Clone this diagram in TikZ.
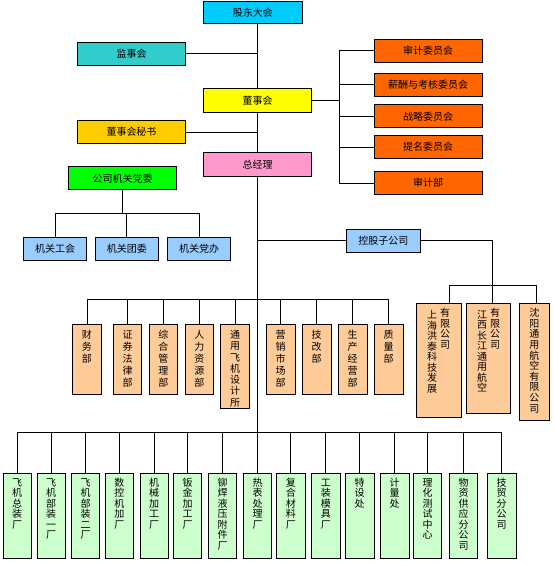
\documentclass[tikz,border=0pt]{standalone}
\usepackage{fontspec}
\newfontfamily\zhfont{Noto Sans CJK SC}
\definecolor{gdblue}{RGB}{0,204,255}
\definecolor{jsteal}{RGB}{51,204,204}
\definecolor{dsyellow}{RGB}{255,255,0}
\definecolor{msgold}{RGB}{255,204,0}
\definecolor{zjpink}{RGB}{255,153,204}
\definecolor{dwgreen}{RGB}{0,255,0}
\definecolor{wyorange}{RGB}{255,102,0}
\definecolor{lblue}{RGB}{153,204,255}
\definecolor{tan}{RGB}{255,204,153}
\definecolor{lgreen}{RGB}{204,255,204}
\newcommand\vcol[1]{\parbox[t]{10pt}{\centering #1}}
\begin{document}
\begin{tikzpicture}[x=1pt, y=-1pt, line width=0.8pt,
  every node/.style={draw, inner sep=0pt, font=\zhfont\fontsize{10}{12}\selectfont},
  wide/.style={minimum width=108.4pt, minimum height=23pt},
  small/.style={minimum width=63.4pt, minimum height=22.3pt, fill=lblue},
  vbar/.style={anchor=north, minimum width=28.5pt, text width=12pt, align=center,
    text height=14pt, font=\zhfont\fontsize{10}{12}\selectfont}]
  \useasboundingbox (0,0) rectangle (554,563);

  % top levels
  \node[wide, fill=gdblue, minimum width=99pt, minimum height=21.6pt] (gd) at (252.8,12.5) {股东大会};
  \node[wide, fill=jsteal] (jsh) at (131.5,53.8) {监事会};
  \node[wide, fill=dsyellow, minimum height=24pt] (dsh) at (257.5,100.3) {董事会};
  \node[wide, fill=msgold] (ms) at (131.5,132) {董事会秘书};
  \node[wide, fill=zjpink, minimum height=24pt] (zjl) at (257.5,164.3) {总经理};
  \node[wide, fill=dwgreen] (dw) at (122.5,178.3) {公司机关党委};

  \foreach \n/\t/\y in {wy1/审计委员会/50.8, wy2/薪酬与考核委员会/84.8, wy3/战略委员会/116.2,
      wy4/提名委员会/147.2, wy5/审计部/183}
    \node[wide, fill=wyorange] (\n) at (428.2,\y) {\t};

  \foreach \n/\t/\x in {jg/机关工会/55, jt/机关团委/126.8, jd/机关党办/199}
    \node[small] (\n) at (\x,248.8) {\t};
  \node[small, minimum width=73.3pt, minimum height=23pt] (kg) at (383.3,240.8) {控股子公司};

  % departments
  \foreach \n/\t/\x in {bm1/{财\\务\\部}/87, bm2/{证\\券\\法\\律\\部}/127.5, bm3/{综\\合\\管\\理\\部}/163.3,
      bm4/{人\\力\\资\\源\\部}/199.3, bm6/{营\\销\\市\\场\\部}/280.7, bm7/{技\\改\\部}/316.7,
      bm8/{生\\产\\经\\营\\部}/352.7, bm9/{质\\量\\部}/388.7}
    \node[vbar, fill=tan, text depth=56pt] (\n) at (\x,324) {\t};
  \node[vbar, fill=tan, text depth=70pt, font=\zhfont\fontsize{10}{11.3}\selectfont] (bm5) at (235,324)
    {通\\用\\飞\\机\\设\\计\\所};

  % subsidiaries
  \node[anchor=north, fill=tan, minimum width=45.3pt, text height=13pt, text depth=100.4pt,
    font=\zhfont\fontsize{10}{10.5}\selectfont] (sh) at (438.7,303.3)
    {\raisebox{-2pt}{\vcol{上\\海\\洪\\泰\\科\\技\\发\\展}}\hspace{3pt}\vcol{有\\限\\公\\司}};
  \node[anchor=north, fill=tan, minimum width=44pt, text height=13pt, text depth=96.4pt,
    font=\zhfont\fontsize{10}{10.5}\selectfont] (jx) at (488.7,303.3)
    {\raisebox{-1.5pt}{\vcol{江\\西\\长\\江\\通\\用\\航\\空}}\hspace{3pt}\vcol{有\\限\\公\\司}};
  \node[vbar, fill=tan, minimum width=30pt, text height=13pt, text depth=103.7pt,
    font=\zhfont\fontsize{10}{10.6}\selectfont] (sy) at (534.3,303.3)
    {沈\\阳\\通\\用\\航\\空\\有\\限\\公\\司};

  % factories
  \foreach \n/\t/\x in {f1/{飞\\机\\总\\装\\厂}/17.2, f2/{飞\\机\\部\\装\\一\\厂}/51.2,
      f3/{飞\\机\\部\\装\\二\\厂}/85.5, f4/{数\\控\\机\\加\\厂}/119.3, f5/{机\\械\\加\\工\\厂}/154.2,
      f6/{钣\\金\\加\\工\\厂}/187.5, f7/{铆\\焊\\液\\压\\附\\件\\厂}/222.5, f8/{热\\表\\处\\理\\厂}/257.5,
      f9/{复\\合\\材\\料\\厂}/290.8, f10/{工\\装\\模\\具\\厂}/325.8, f11/{特\\设\\处}/359.7,
      f12/{计\\量\\处}/394.7, f13/{理\\化\\测\\试\\中\\心}/427.5, f14/{物\\资\\供\\应\\分\\公\\司}/463.5,
      f15/{技\\贸\\分\\公\\司}/501.7}
    \node[vbar, fill=lgreen, text height=13pt, text depth=72.6pt,
      font=\zhfont\fontsize{10}{10.5}\selectfont] (\n) at (\x,472.7) {\t};

  % connectors
  \coordinate (cbar) at (339,0);
  \coordinate (jbus) at (0,213.3);
  \coordinate (dbus) at (0,299);
  \coordinate (fbus) at (0,432.3);
  \coordinate (s1) at (449,285.7);
  \coordinate (s2) at (492.3,285.7);
  \coordinate (s3) at (536.7,285.7);

  \draw (dsh.north |- gd.south) -- (dsh.north);
  \draw (dsh.south) -- (zjl.north);
  \draw (zjl.south) -- (f8.north);
  \draw (jsh.east) -- (jsh.east -| dsh.north);
  \draw (ms.east) -- (ms.east -| dsh.south);

  \draw (dsh.east) -- (dsh.east -| cbar);
  \draw (wy1.west -| cbar) -- (wy5.west -| cbar);
  \foreach \n in {wy1,wy2,wy3,wy4,wy5}
    \draw (\n.west -| cbar) -- (\n.west);

  \draw (dw.south) -- (dw.south |- jbus);
  \draw (jg.north |- jbus) -- (jd.north |- jbus);
  \foreach \n in {jg,jt,jd}
    \draw (\n.north |- jbus) -- (\n.north);

  \draw (kg.west -| zjl.south) -- (kg.west);
  \draw (kg.east) -| (s2) -- (s2 |- jx.north);
  \draw (s1) -- (s3);
  \draw (s1) -- (s1 |- sh.north);
  \draw (s3) -- (s3 |- sy.north);

  \draw (bm1.north |- dbus) -- (bm9.north |- dbus);
  \foreach \n in {bm1,bm2,bm3,bm4,bm5,bm6,bm7,bm8,bm9}
    \draw (\n.north |- dbus) -- (\n.north);

  \draw (f1.north |- fbus) -- (f15.north |- fbus);
  \foreach \i in {1,...,15}
    \draw (f\i.north |- fbus) -- (f\i.north);
\end{tikzpicture}
\end{document}
